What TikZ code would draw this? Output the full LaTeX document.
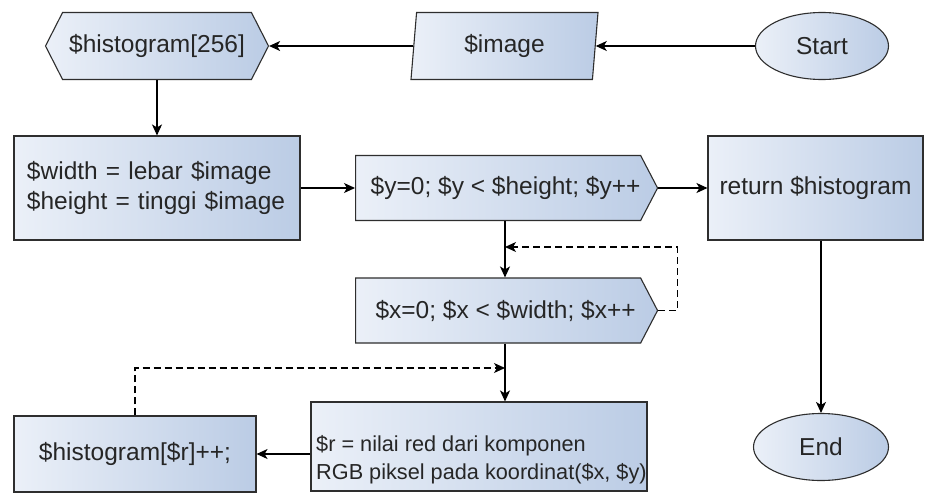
\documentclass[tikz,border=0pt]{standalone}
\usepackage{fontspec}
\setmainfont{Liberation Sans}
\usetikzlibrary{shapes.geometric,shapes.symbols,arrows.meta}
\definecolor{fillL}{HTML}{EBF0F8}
\definecolor{fillR}{HTML}{BBCCE5}
\definecolor{edge}{HTML}{2E2E2E}
\definecolor{txt}{HTML}{262626}
\tikzset{
  box/.style={draw=edge, line width=1.1pt, left color=fillL, right color=fillR,
    inner sep=0pt, text=txt, font=\fontsize{24.5}{30}\selectfont},
  rectbox/.style={box, rectangle},
  loopbox/.style={box, signal, signal to=east, signal pointer angle=125},
  hexbox/.style={box, signal, signal to=east and west, signal pointer angle=126},
  iobox/.style={box, trapezium, trapezium left angle=76.5, trapezium right angle=103.5,
    trapezium stretches body},
  term/.style={box, ellipse},
  flow/.style={draw=black, line width=1.1pt, -{Stealth[length=11pt,width=10pt,inset=3pt]}},
  back/.style={flow, dash pattern=on 7pt off 4pt}
}
\begin{document}
\begin{tikzpicture}[x=1pt,y=-1pt]
\fill[white] (0,0) rectangle (925,501);
\path[use as bounding box] (0,0) rectangle (925,501);

\node[hexbox, minimum width=223pt, minimum height=67pt] (hist) at (157,46) {\$histogram[256]};
\node[iobox, minimum width=187pt, minimum height=67pt] (img) at (504.5,46) {\$image};
\node[term, minimum width=133pt, minimum height=67pt] (start) at (822,46) {Start};

\node[rectbox, minimum width=286pt, minimum height=104pt, text width=260pt, align=left] (wh) at (157,188)
  {\$width = lebar \$image\\ \$height = tinggi \$image};
\node[loopbox, minimum width=302pt, minimum height=65pt, anchor=west] (yloop) at (355,188) {\hspace*{15pt}\$y=0; \$y < \$height; \$y++};
\node[rectbox, minimum width=215pt, minimum height=104pt] (ret) at (815.5,188) {return \$histogram};

\node[loopbox, minimum width=302pt, minimum height=65pt, anchor=west] (xloop) at (355,310.5) {\hspace*{15pt}\$x=0; \$x < \$width; \$x++};

\node[rectbox, minimum width=336pt, minimum height=89pt] (rbox) at (479,446.5) {};
\node[anchor=west, inner sep=0pt, text=txt, align=left, font=\fontsize{21.7}{28}\selectfont] (rtxt) at (316,460)
  {\$r = nilai red dari komponen\\RGB piksel pada koordinat(\$x, \$y)};
\node[rectbox, minimum width=242pt, minimum height=76pt] (hr) at (135,454) {\$histogram[\$r]++;};
\node[term, minimum width=135pt, minimum height=67pt] (end) at (821,447) {End};

\coordinate (j1) at (505,247);
\coordinate (j2) at (505,368);

\draw[flow] (start.west) -- (img.east);
\draw[flow] (img.west) -- (hist.east);
\draw[flow] (hist.south) -- (wh.north);
\draw[flow] (wh.east) -- (yloop.west);
\draw[flow] (yloop.east) -- (ret.west);
\draw[flow] (j1 |- yloop.south) -- (j1 |- xloop.north);
\draw[back] (xloop.east) -- ++(19,0) |- (j1);
\draw[flow] (j1 |- xloop.south) -- (j1 |- rbox.north);
\draw[flow] (rbox.west |- hr.east) -- (hr.east);
\draw[back] (hr.north) |- (j2);
\draw[flow] (end.north |- ret.south) -- (end.north);
\end{tikzpicture}
\end{document}
